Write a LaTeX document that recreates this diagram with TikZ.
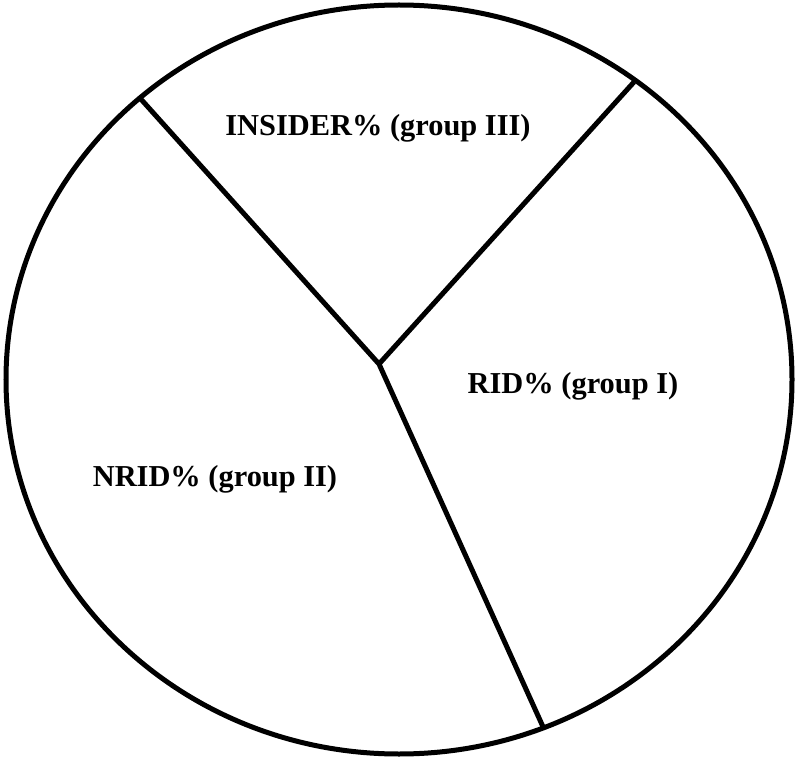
\documentclass[tikz,border=0pt]{standalone}
\usepackage{fontspec}
\setmainfont{Liberation Serif}
\usetikzlibrary{calc}

\begin{document}
\begin{tikzpicture}[x=1pt, y=-1pt, line width=5pt,
    group/.style={anchor=base, inner sep=0pt, font=\fontsize{30.4}{36}\selectfont\bfseries}]
      \useasboundingbox (0,0) rectangle (795,759);
      \draw (399,379.5) ellipse [x radius=393, y radius=374.5];
      \coordinate (ctr) at (379,364);
      \coordinate (tl) at (139,97);
      \coordinate (tr) at (634,82);
      \coordinate (bt) at (544,729);
      \draw (tl) -- (ctr) -- (tr)
      (ctr) -- (bt);
      \node[group] (ins) at (378,136) {INSIDER\% (group III)};
      \node[group] (rid) at (573,393) {RID\% (group I)};
      \node[group] (nrid) at (215,486) {NRID\% (group II)};
    \end{tikzpicture}
\end{document}
